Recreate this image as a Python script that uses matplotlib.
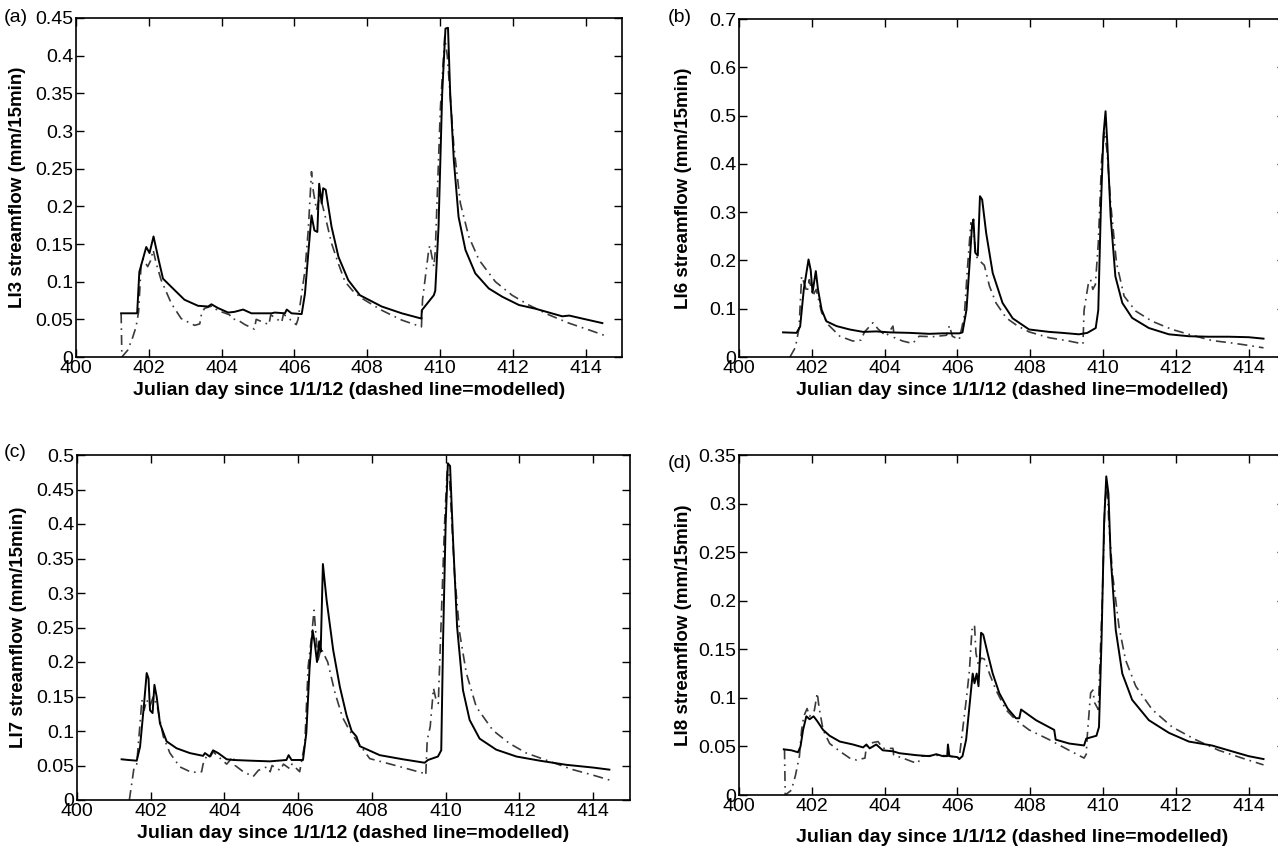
import numpy as np
import matplotlib
matplotlib.use('Agg')
import matplotlib.pyplot as plt

plt.rcParams['font.family'] = ['Liberation Sans', 'DejaVu Sans']

# panel (a) LI3
obs_x_a = [401.24, 401.68, 401.74, 401.93, 402.02, 402.13, 402.27, 402.39, 402.62, 402.98, 403.35, 403.63,
           403.72, 403.90, 404.18, 404.36, 404.59, 404.82, 405.37, 405.46, 405.74, 405.79, 405.92, 406.20,
           406.29, 406.38, 406.47, 406.55, 406.63, 406.68, 406.75, 406.79, 406.86, 407.02, 407.21, 407.48,
           407.80, 408.40, 408.95, 409.49, 409.50, 409.83, 409.87, 409.96, 410.06, 410.15, 410.22, 410.28,
           410.38, 410.51, 410.70, 410.97, 411.34, 411.71, 412.17, 412.63, 413.36, 413.55, 413.91, 414.46]
obs_y_a = [0.058, 0.058, 0.113, 0.146, 0.138, 0.160, 0.129, 0.104, 0.093, 0.076, 0.068, 0.067,
           0.070, 0.065, 0.059, 0.060, 0.063, 0.058, 0.058, 0.059, 0.058, 0.063, 0.058, 0.057,
           0.084, 0.137, 0.188, 0.168, 0.166, 0.230, 0.204, 0.224, 0.222, 0.173, 0.133, 0.102,
           0.082, 0.067, 0.058, 0.051, 0.062, 0.082, 0.088, 0.173, 0.350, 0.436, 0.437, 0.350,
           0.261, 0.186, 0.142, 0.111, 0.091, 0.080, 0.069, 0.064, 0.054, 0.055, 0.051, 0.045]
mod_x_a = [401.24, 401.26, 401.42, 401.55, 401.65, 401.72, 401.79, 401.84, 401.97, 402.05, 402.12, 402.20,
           402.34, 402.62, 402.89, 403.26, 403.40, 403.45, 403.53, 403.75, 403.88, 404.22, 404.27, 404.45,
           404.64, 404.90, 404.95, 405.30, 405.35, 405.65, 405.70, 406.05, 406.10, 406.29, 406.38, 406.47,
           406.52, 406.61, 406.70, 406.83, 407.02, 407.20, 407.39, 407.60, 407.85, 408.40, 408.95, 409.49,
           409.52, 409.69, 409.72, 409.83, 409.87, 410.01, 410.13, 410.20, 410.38, 410.56, 410.79, 411.07,
           411.52, 411.98, 412.44, 412.99, 413.54, 414.09, 414.50]
mod_y_a = [0.058, 0.0, 0.009, 0.025, 0.040, 0.060, 0.124, 0.130, 0.120, 0.128, 0.142, 0.125,
           0.102, 0.071, 0.051, 0.042, 0.044, 0.058, 0.0645, 0.068, 0.062, 0.056, 0.051, 0.049,
           0.043, 0.037, 0.050, 0.043, 0.056, 0.046, 0.057, 0.043, 0.050, 0.115, 0.168, 0.246,
           0.220, 0.195, 0.215, 0.190, 0.151, 0.125, 0.100, 0.088, 0.078, 0.062, 0.049, 0.040,
           0.076, 0.142, 0.148, 0.120, 0.140, 0.330, 0.425, 0.400, 0.280, 0.204, 0.160, 0.129,
           0.100, 0.082, 0.069, 0.056, 0.045, 0.036, 0.029]

# panel (b) LI6
obs_x_b = [401.21, 401.58, 401.68, 401.78, 401.91, 401.97, 402.02, 402.11, 402.17, 402.27, 402.40, 402.68,
           403.04, 403.41, 403.77, 404.14, 404.68, 405.23, 405.60, 406.05, 406.14, 406.25, 406.33, 406.40,
           406.44, 406.49, 406.56, 406.62, 406.68, 406.79, 406.97, 407.24, 407.52, 407.97, 408.52, 408.88,
           409.34, 409.57, 409.80, 409.87, 409.94, 410.01, 410.07, 410.12, 410.21, 410.34, 410.53, 410.80,
           411.26, 411.81, 412.36, 412.90, 413.45, 414.00, 414.41]
obs_y_b = [0.051, 0.050, 0.063, 0.140, 0.202, 0.180, 0.133, 0.178, 0.140, 0.098, 0.074, 0.064,
           0.057, 0.052, 0.053, 0.051, 0.050, 0.048, 0.049, 0.049, 0.051, 0.098, 0.188, 0.270,
           0.285, 0.216, 0.210, 0.333, 0.326, 0.257, 0.174, 0.112, 0.080, 0.057, 0.052, 0.050,
           0.047, 0.050, 0.060, 0.097, 0.305, 0.457, 0.509, 0.440, 0.291, 0.167, 0.112, 0.081,
           0.060, 0.047, 0.043, 0.042, 0.042, 0.041, 0.038]
mod_x_b = [401.40, 401.55, 401.65, 401.72, 401.78, 401.87, 401.93, 402.03, 402.12, 402.27, 402.45, 402.77,
           403.13, 403.35, 403.45, 403.68, 403.82, 404.05, 404.23, 404.27, 404.50, 404.77, 404.95, 405.32,
           405.70, 405.78, 405.86, 406.05, 406.19, 406.28, 406.37, 406.44, 406.51, 406.60, 406.74, 406.88,
           407.06, 407.34, 407.66, 407.97, 408.52, 409.07, 409.45, 409.48, 409.60, 409.66, 409.72, 409.79,
           409.87, 409.96, 410.04, 410.11, 410.21, 410.37, 410.58, 410.90, 411.35, 411.90, 412.45, 413.00,
           413.54, 414.00, 414.41]
mod_y_b = [0.0, 0.020, 0.060, 0.167, 0.155, 0.134, 0.160, 0.127, 0.140, 0.092, 0.067, 0.043,
           0.033, 0.035, 0.052, 0.071, 0.058, 0.043, 0.064, 0.040, 0.033, 0.028, 0.043, 0.042,
           0.045, 0.065, 0.043, 0.036, 0.085, 0.188, 0.278, 0.265, 0.209, 0.200, 0.190, 0.147,
           0.112, 0.081, 0.064, 0.052, 0.040, 0.033, 0.027, 0.097, 0.153, 0.160, 0.140, 0.150,
           0.235, 0.405, 0.467, 0.427, 0.318, 0.195, 0.126, 0.095, 0.074, 0.057, 0.045, 0.034,
           0.029, 0.024, 0.019]

# panel (c) LI7
obs_x_c = [401.21, 401.39, 401.62, 401.71, 401.82, 401.89, 401.94, 401.98, 402.05, 402.10, 402.16, 402.25,
           402.43, 402.70, 403.06, 403.42, 403.47, 403.60, 403.69, 403.83, 404.06, 404.24, 404.70, 405.23,
           405.68, 405.74, 405.82, 406.13, 406.22, 406.31, 406.39, 406.45, 406.51, 406.57, 406.61, 406.67,
           406.77, 406.95, 407.13, 407.31, 407.45, 407.58, 407.67, 408.21, 408.84, 409.43, 409.52, 409.79,
           409.88, 409.93, 410.00, 410.06, 410.12, 410.20, 410.31, 410.47, 410.65, 410.92, 411.37, 411.92,
           412.55, 413.27, 414.00, 414.44]
obs_y_c = [0.059, 0.058, 0.057, 0.077, 0.140, 0.184, 0.176, 0.130, 0.126, 0.167, 0.150, 0.111,
           0.085, 0.075, 0.068, 0.064, 0.068, 0.063, 0.072, 0.068, 0.059, 0.058, 0.057, 0.056,
           0.058, 0.065, 0.058, 0.058, 0.097, 0.193, 0.246, 0.227, 0.200, 0.230, 0.215, 0.342,
           0.290, 0.217, 0.164, 0.123, 0.100, 0.092, 0.078, 0.065, 0.059, 0.054, 0.058, 0.063,
           0.072, 0.232, 0.401, 0.488, 0.484, 0.377, 0.251, 0.159, 0.116, 0.089, 0.073, 0.063,
           0.057, 0.051, 0.047, 0.044]
mod_x_c = [401.42, 401.55, 401.62, 401.71, 401.76, 401.82, 401.89, 401.98, 402.07, 402.18, 402.34, 402.52,
           402.79, 403.11, 403.38, 403.42, 403.51, 403.60, 403.69, 403.83, 404.06, 404.24, 404.29, 404.51,
           404.78, 404.92, 405.15, 405.24, 405.29, 405.51, 405.60, 405.78, 405.83, 406.04, 406.18, 406.27,
           406.36, 406.43, 406.48, 406.54, 406.62, 406.80, 407.00, 407.20, 407.40, 407.60, 407.94, 408.57,
           409.39, 409.46, 409.50, 409.58, 409.67, 409.74, 409.80, 409.97, 410.04, 410.10, 410.24, 410.38,
           410.56, 410.83, 411.28, 411.73, 412.19, 412.82, 413.45, 414.00, 414.44]
mod_y_c = [0.0, 0.048, 0.052, 0.111, 0.145, 0.130, 0.145, 0.136, 0.150, 0.135, 0.092, 0.068,
           0.048, 0.040, 0.041, 0.052, 0.063, 0.061, 0.070, 0.063, 0.052, 0.063, 0.050, 0.041,
           0.034, 0.043, 0.048, 0.041, 0.050, 0.043, 0.052, 0.045, 0.052, 0.041, 0.082, 0.193,
           0.236, 0.275, 0.240, 0.203, 0.220, 0.200, 0.155, 0.120, 0.100, 0.085, 0.060, 0.051,
           0.039, 0.036, 0.087, 0.106, 0.162, 0.145, 0.140, 0.400, 0.478, 0.470, 0.328, 0.242,
           0.184, 0.135, 0.101, 0.082, 0.068, 0.056, 0.044, 0.036, 0.029]

# panel (d) LI8
obs_x_d = [401.23, 401.44, 401.62, 401.69, 401.76, 401.85, 401.94, 402.05, 402.15, 402.31, 402.49, 402.77,
           403.13, 403.41, 403.50, 403.59, 403.77, 403.95, 404.23, 404.41, 404.87, 405.23, 405.42, 405.60,
           405.72, 405.74, 405.78, 406.00, 406.05, 406.14, 406.24, 406.33, 406.42, 406.47, 406.53, 406.58,
           406.65, 406.71, 406.83, 406.97, 407.15, 407.38, 407.61, 407.70, 407.75, 408.16, 408.66, 408.70,
           409.07, 409.48, 409.54, 409.82, 409.89, 409.96, 410.03, 410.09, 410.15, 410.21, 410.35, 410.53,
           410.80, 411.26, 411.81, 412.36, 412.99, 413.54, 414.00, 414.41]
obs_y_d = [0.047, 0.046, 0.044, 0.050, 0.067, 0.081, 0.078, 0.081, 0.076, 0.067, 0.061, 0.055,
           0.052, 0.049, 0.052, 0.048, 0.052, 0.046, 0.045, 0.043, 0.041, 0.040, 0.042, 0.040,
           0.040, 0.052, 0.040, 0.039, 0.037, 0.040, 0.057, 0.091, 0.125, 0.115, 0.125, 0.112,
           0.167, 0.165, 0.146, 0.125, 0.105, 0.089, 0.079, 0.079, 0.088, 0.077, 0.067, 0.057,
           0.053, 0.051, 0.058, 0.061, 0.070, 0.160, 0.280, 0.328, 0.310, 0.246, 0.170, 0.125,
           0.098, 0.077, 0.064, 0.055, 0.051, 0.045, 0.040, 0.037]
mod_x_d = [401.25, 401.27, 401.44, 401.55, 401.66, 401.72, 401.78, 401.87, 401.94, 402.07, 402.15, 402.20,
           402.31, 402.49, 402.77, 403.04, 403.23, 403.46, 403.50, 403.68, 403.82, 403.95, 404.23, 404.25,
           404.50, 404.78, 404.92, 405.00, 405.50, 405.80, 406.05, 406.25, 406.33, 406.40, 406.47, 406.51,
           406.58, 406.65, 406.74, 406.88, 407.06, 407.33, 407.61, 407.97, 408.52, 409.07, 409.48, 409.54,
           409.57, 409.66, 409.72, 409.77, 409.87, 409.98, 410.05, 410.11, 410.16, 410.26, 410.44, 410.62,
           410.90, 411.35, 411.90, 412.54, 413.18, 413.82, 414.41]
mod_y_d = [0.047, 0.0, 0.005, 0.020, 0.040, 0.067, 0.081, 0.089, 0.081, 0.087, 0.105, 0.090,
           0.067, 0.053, 0.045, 0.038, 0.036, 0.038, 0.050, 0.054, 0.055, 0.048, 0.048, 0.041,
           0.038, 0.034, 0.033, 0.040, 0.041, 0.040, 0.038, 0.100, 0.128, 0.170, 0.175, 0.146,
           0.133, 0.141, 0.140, 0.125, 0.108, 0.088, 0.077, 0.067, 0.057, 0.046, 0.038, 0.042,
           0.062, 0.105, 0.108, 0.095, 0.088, 0.200, 0.300, 0.320, 0.281, 0.228, 0.173, 0.139,
           0.112, 0.088, 0.070, 0.057, 0.046, 0.038, 0.031]

x_ticks = [400, 402, 404, 406, 408, 410, 412, 414]
x_tick_labels = ['400', '402', '404', '406', '408', '410', '412', '414']
y_ticks_a = [0, 0.05, 0.1, 0.15, 0.2, 0.25, 0.3, 0.35, 0.4, 0.45]
y_labels_a = ['0', '0.05', '0.1', '0.15', '0.2', '0.25', '0.3', '0.35', '0.4', '0.45']
y_ticks_b = [0, 0.1, 0.2, 0.3, 0.4, 0.5, 0.6, 0.7]
y_labels_b = ['0', '0.1', '0.2', '0.3', '0.4', '0.5', '0.6', '0.7']
y_ticks_c = [0, 0.05, 0.1, 0.15, 0.2, 0.25, 0.3, 0.35, 0.4, 0.45, 0.5]
y_labels_c = ['0', '0.05', '0.1', '0.15', '0.2', '0.25', '0.3', '0.35', '0.4', '0.45', '0.5']
y_ticks_d = [0, 0.05, 0.1, 0.15, 0.2, 0.25, 0.3, 0.35]
y_labels_d = ['0', '0.05', '0.1', '0.15', '0.2', '0.25', '0.3', '0.35']

site_names = ['LI3', 'LI6', 'LI7', 'LI8']
panel_tags = ['(a)', '(b)', '(c)', '(d)']
xlabel_text = 'Julian day since 1/1/12 (dashed line=modelled)'


def main():
    W, H = 1278, 856
    fig = plt.figure(figsize=(W / 100, H / 100), dpi=100)

    # axes boxes in pixels: left, top, right, bottom (right column runs off the page)
    boxes = [(76, 18, 622, 357), (739, 19, 1285, 357), (77, 455, 630, 800), (739, 455, 1285, 795)]
    xlab_y = [390, 390, 833, 837]
    tag_pos = [(4, 18), (668, 18), (4, 453), (668, 463)]

    series = [(obs_x_a, obs_y_a, mod_x_a, mod_y_a, y_ticks_a, y_labels_a),
              (obs_x_b, obs_y_b, mod_x_b, mod_y_b, y_ticks_b, y_labels_b),
              (obs_x_c, obs_y_c, mod_x_c, mod_y_c, y_ticks_c, y_labels_c),
              (obs_x_d, obs_y_d, mod_x_d, mod_y_d, y_ticks_d, y_labels_d)]

    for i in range(4):
        l, t, r, b = boxes[i]
        ax = fig.add_axes([l / W, 1 - b / H, (r - l) / W, (b - t) / H])
        ox, oy, mx, my, yt, yl = series[i]

        ax.plot(mx, my, color='#3a3a3a', lw=1.2, linestyle=(0, (6, 3, 1, 3)))
        ax.plot(ox, oy, color='black', lw=1.4)

        ax.set_xlim(400, 415)
        ax.set_ylim(yt[0], yt[-1])
        ax.set_xticks(x_ticks)
        ax.set_xticklabels(x_tick_labels)
        ax.set_yticks(yt)
        ax.set_yticklabels(yl)
        ax.tick_params(direction='in', length=6, width=1, top=True, right=True,
                       labelsize=14, pad=2)
        for s in ax.spines.values():
            s.set_linewidth(1.2)

        ax.set_ylabel(site_names[i] + ' streamflow (mm/15min)', fontsize=13.5, fontweight='bold')
        ax.yaxis.set_label_coords((18 - l) / (r - l) if i % 2 == 0 else (683 - l) / (r - l), 0.5)
        ax.yaxis.label.set_va('center')

        ax.set_xlabel(xlabel_text, fontsize=14, fontweight='bold')
        ax.xaxis.set_label_coords(0.5, -(xlab_y[i] - b) / (b - t))
        ax.xaxis.label.set_va('center')

        tx, ty = tag_pos[i]
        fig.text(tx / W, 1 - ty / H, panel_tags[i], fontsize=14, va='center', ha='left')

    fig.savefig('out.png', dpi=100)


if __name__ == '__main__':
    main()
